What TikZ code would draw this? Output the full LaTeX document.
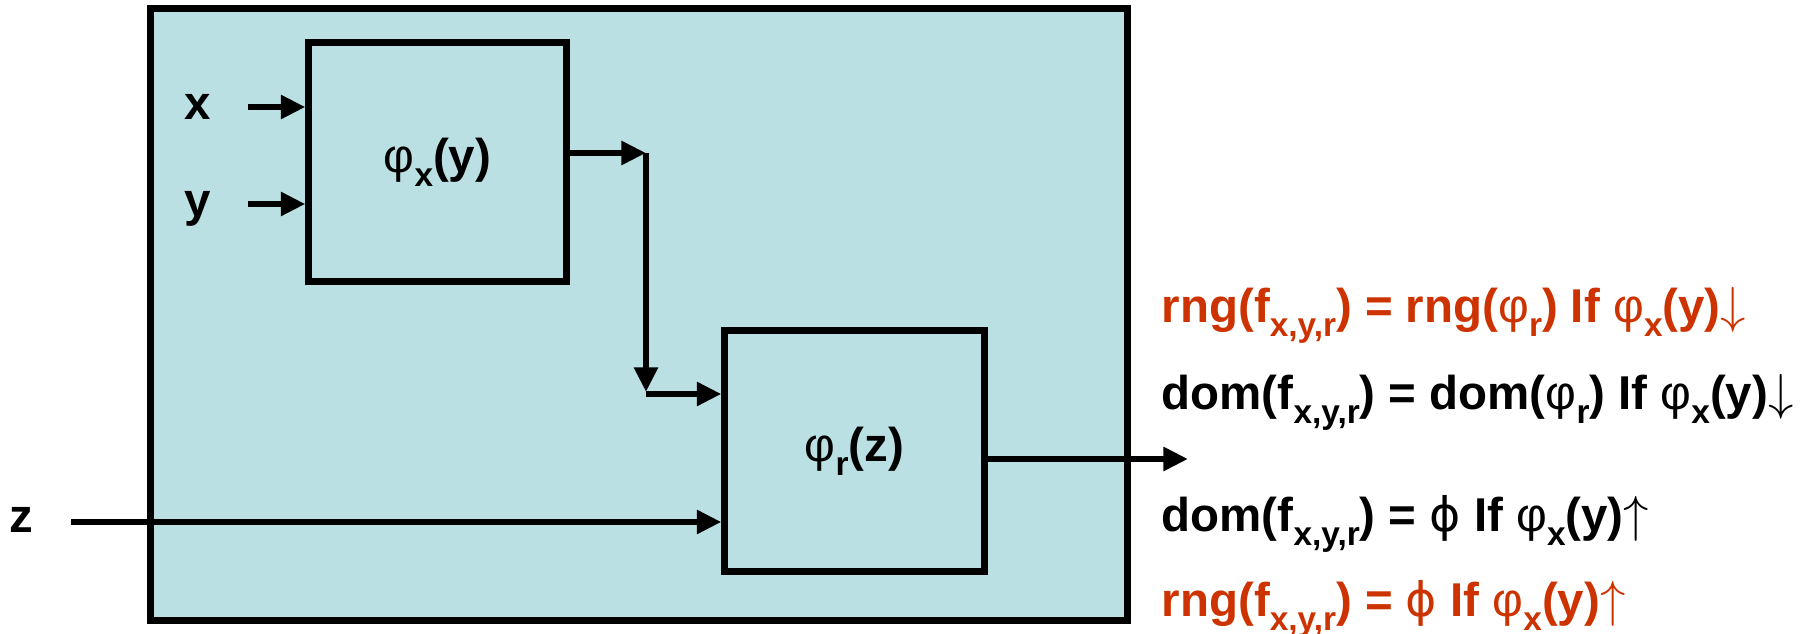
\documentclass[tikz,border=0pt]{standalone}
\usepackage{fontspec}
\setmainfont{Liberation Sans}
\newfontfamily\symfont{DejaVu Sans}
\usetikzlibrary{arrows.meta}

\definecolor{panel}{HTML}{BBE0E3}
\definecolor{rngred}{HTML}{CC3300}

% greek letters in upright medium weight, lowered indices
\newcommand{\gphi}{{\mdseries φ}}
\newcommand{\nullphi}{{\symfont\mdseries ϕ}}
\newcommand{\lo}[1]{\raisebox{-0.55ex}{\fontsize{9.5}{9.5}\selectfont #1}}
\newcommand{\arrdn}{$\downarrow$}
\newcommand{\arrup}{$\uparrow$}

\begin{document}
\begin{tikzpicture}[x=0.01cm,y=-0.01cm,
  font=\fontsize{13.5}{16}\selectfont\bfseries,
  box/.style={draw,line width=2pt,inner sep=0pt},
  arr/.style={line width=1.8pt,-{Triangle[length=7pt,width=6.5pt]}},
  lbl/.style={anchor=base,inner sep=0pt},
  eqn/.style={anchor=base west,inner sep=0pt}]
  \useasboundingbox (0,0) rectangle (1808,634);

  % machine and its two parts
  \node[box,fill=panel,minimum width=9.76cm,minimum height=6.11cm] (machine) at (639,314.5) {};
  \node[box,minimum width=2.57cm,minimum height=2.38cm] (phix) at (437.5,162) {\gphi\lo{x}(y)};
  \node[box,minimum width=2.59cm,minimum height=2.40cm] (phir) at (854.5,451) {\gphi\lo{r}(z)};

  % inputs
  \node[lbl] (lx) at (198,120) {x};
  \node[lbl] (ly) at (198,217) {y};
  \node[lbl] (lz) at (21,533) {z};
  \coordinate (xin) at (248,107);
  \coordinate (yin) at (248,204);
  \coordinate (zin) at (71,522);
  \draw[arr] (xin) -- (phix.west |- xin);
  \draw[arr] (yin) -- (phix.west |- yin);
  \draw[arr] (zin) -- (phir.west |- zin);

  % result of phi_x(y) passed on as r
  \coordinate (bendA) at (646,153);
  \coordinate (bendB) at (646,394);
  \draw[arr] (phix.east |- bendA) -- (bendA);
  \draw[arr] (bendA) -- ([yshift=0.02cm]bendB);
  \draw[arr] (bendB) -- (phir.west |- bendB);

  % output
  \coordinate (out) at (1188,459);
  \draw[arr] (phir.east |- out) -- (out);

  % domain and range
  \node[eqn,text=rngred] (rngdn) at (1161,323) {rng(f\lo{x,y,r}) = rng(\gphi\lo{r}) If \gphi\lo{x}(y)\arrdn};
  \node[eqn] (domdn) at (1161,410) {dom(f\lo{x,y,r}) = dom(\gphi\lo{r}) If \gphi\lo{x}(y)\arrdn};
  \node[eqn] (domup) at (1161,532) {dom(f\lo{x,y,r}) = \nullphi{} If \gphi\lo{x}(y)\arrup};
  \node[eqn,text=rngred] (rngup) at (1161,617) {rng(f\lo{x,y,r}) = \nullphi{} If \gphi\lo{x}(y)\arrup};
\end{tikzpicture}
\end{document}
